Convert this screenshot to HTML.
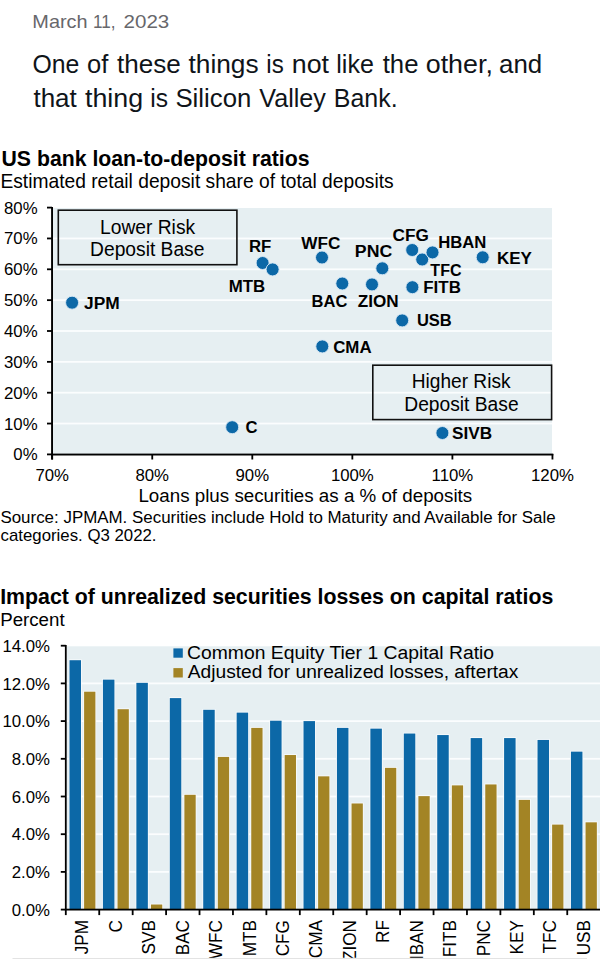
<!DOCTYPE html>
<html><head><meta charset="utf-8"><title>US bank loan-to-deposit ratios</title>
<style>
html,body{margin:0;padding:0;background:#fff;width:600px;height:974px;overflow:hidden}
svg{display:block;font-family:"Liberation Sans",Arial,sans-serif}
</style></head><body>
<svg width="600" height="974" viewBox="0 0 600 974">
<defs><clipPath id="cl"><rect x="0" y="912" width="600" height="45.8"/></clipPath></defs>
<g fill="#67676b" font-size="18.6">
<text x="32.34" y="27.9" textLength="55.22" lengthAdjust="spacingAndGlyphs">March</text>
<text x="93.03" y="27.9" textLength="22.48" lengthAdjust="spacingAndGlyphs">11,</text>
<text x="123.59" y="27.9" textLength="45.73" lengthAdjust="spacingAndGlyphs">2023</text>
</g>
<g fill="#0f1419" font-size="25.1">
<text x="32.44" y="73.3" textLength="46.9" lengthAdjust="spacingAndGlyphs">One</text>
<text x="87.07" y="73.3" textLength="21.31" lengthAdjust="spacingAndGlyphs">of</text>
<text x="117.01" y="73.3" textLength="63.8" lengthAdjust="spacingAndGlyphs">these</text>
<text x="188.51" y="73.3" textLength="70.08" lengthAdjust="spacingAndGlyphs">things</text>
<text x="266.37" y="73.3" textLength="17.42" lengthAdjust="spacingAndGlyphs">is</text>
<text x="291.73" y="73.3" textLength="37.29" lengthAdjust="spacingAndGlyphs">not</text>
<text x="336.31" y="73.3" textLength="37.58" lengthAdjust="spacingAndGlyphs">like</text>
<text x="382.71" y="73.3" textLength="35.77" lengthAdjust="spacingAndGlyphs">the</text>
<text x="425.76" y="73.3" textLength="67.14" lengthAdjust="spacingAndGlyphs">other,</text>
<text x="499.07" y="73.3" textLength="43.14" lengthAdjust="spacingAndGlyphs">and</text>
</g>
<g fill="#0f1419" font-size="25.1">
<text x="33.41" y="106.9" textLength="43.37" lengthAdjust="spacingAndGlyphs">that</text>
<text x="85.01" y="106.9" textLength="58.12" lengthAdjust="spacingAndGlyphs">thing</text>
<text x="150.34" y="106.9" textLength="17.75" lengthAdjust="spacingAndGlyphs">is</text>
<text x="175.42" y="106.9" textLength="75.88" lengthAdjust="spacingAndGlyphs">Silicon</text>
<text x="259.28" y="106.9" textLength="66.63" lengthAdjust="spacingAndGlyphs">Valley</text>
<text x="333.84" y="106.9" textLength="63.8" lengthAdjust="spacingAndGlyphs">Bank.</text>
</g>
<text x="1.53" y="165.6" font-size="21.69" font-weight="700" textLength="308.04" lengthAdjust="spacingAndGlyphs">US bank loan-to-deposit ratios</text>
<text x="0.39" y="187.5" font-size="19.61" textLength="393.3" lengthAdjust="spacingAndGlyphs">Estimated retail deposit share of total deposits</text>
<rect x="53" y="208" width="499" height="246" fill="#e6eff2"/>
<rect x="53" y="422.65" width="499" height="1.8" fill="#fbfdfe"/>
<rect x="53" y="391.80" width="499" height="1.8" fill="#fbfdfe"/>
<rect x="53" y="360.95" width="499" height="1.8" fill="#fbfdfe"/>
<rect x="53" y="330.10" width="499" height="1.8" fill="#fbfdfe"/>
<rect x="53" y="299.25" width="499" height="1.8" fill="#fbfdfe"/>
<rect x="53" y="268.40" width="499" height="1.8" fill="#fbfdfe"/>
<rect x="53" y="237.55" width="499" height="1.8" fill="#fbfdfe"/>
<rect x="58.3" y="210.2" width="178.6" height="54.5" fill="none" stroke="#111" stroke-width="1.6"/>
<rect x="372.8" y="365.2" width="178.8" height="54.4" fill="none" stroke="#111" stroke-width="1.6"/>
<text x="100.09" y="234" font-size="19.57" textLength="95.02" lengthAdjust="spacingAndGlyphs">Lower Risk</text>
<text x="90.09" y="256" font-size="19.71" textLength="114.34" lengthAdjust="spacingAndGlyphs">Deposit Base</text>
<text x="411.69" y="388.3" font-size="19.54" textLength="98.88" lengthAdjust="spacingAndGlyphs">Higher Risk</text>
<text x="404.29" y="410.8" font-size="19.71" textLength="114.34" lengthAdjust="spacingAndGlyphs">Deposit Base</text>
<rect x="51.1" y="207" width="1.9" height="252.5" fill="#000"/>
<rect x="51.1" y="453.6" width="502.2" height="1.9" fill="#000"/>
<rect x="47" y="453.50" width="5" height="1.8" fill="#000"/>
<text x="37.6" y="460.40" font-size="16.8" text-anchor="end">0%</text>
<rect x="47" y="422.65" width="5" height="1.8" fill="#000"/>
<text x="37.6" y="429.55" font-size="16.8" text-anchor="end">10%</text>
<rect x="47" y="391.80" width="5" height="1.8" fill="#000"/>
<text x="37.6" y="398.70" font-size="16.8" text-anchor="end">20%</text>
<rect x="47" y="360.95" width="5" height="1.8" fill="#000"/>
<text x="37.6" y="367.85" font-size="16.8" text-anchor="end">30%</text>
<rect x="47" y="330.10" width="5" height="1.8" fill="#000"/>
<text x="37.6" y="337.00" font-size="16.8" text-anchor="end">40%</text>
<rect x="47" y="299.25" width="5" height="1.8" fill="#000"/>
<text x="37.6" y="306.15" font-size="16.8" text-anchor="end">50%</text>
<rect x="47" y="268.40" width="5" height="1.8" fill="#000"/>
<text x="37.6" y="275.30" font-size="16.8" text-anchor="end">60%</text>
<rect x="47" y="237.55" width="5" height="1.8" fill="#000"/>
<text x="37.6" y="244.45" font-size="16.8" text-anchor="end">70%</text>
<rect x="47" y="206.70" width="5" height="1.8" fill="#000"/>
<text x="37.6" y="213.60" font-size="16.8" text-anchor="end">80%</text>
<rect x="51.30" y="454" width="1.8" height="5.5" fill="#000"/>
<text x="52.20" y="480.8" font-size="16.8" text-anchor="middle">70%</text>
<rect x="151.35" y="454" width="1.8" height="5.5" fill="#000"/>
<text x="152.25" y="480.8" font-size="16.8" text-anchor="middle">80%</text>
<rect x="251.40" y="454" width="1.8" height="5.5" fill="#000"/>
<text x="252.30" y="480.8" font-size="16.8" text-anchor="middle">90%</text>
<rect x="351.45" y="454" width="1.8" height="5.5" fill="#000"/>
<text x="352.35" y="480.8" font-size="16.8" text-anchor="middle">100%</text>
<rect x="451.50" y="454" width="1.8" height="5.5" fill="#000"/>
<text x="452.40" y="480.8" font-size="16.8" text-anchor="middle">110%</text>
<rect x="551.55" y="454" width="1.8" height="5.5" fill="#000"/>
<text x="552.45" y="480.8" font-size="16.8" text-anchor="middle">120%</text>
<text x="138.42" y="502" font-size="19.17" textLength="333.78" lengthAdjust="spacingAndGlyphs">Loans plus securities as a % of deposits</text>
<text x="0.45" y="522.5" font-size="17.26" textLength="555.23" lengthAdjust="spacingAndGlyphs">Source: JPMAM. Securities include Hold to Maturity and Available for Sale</text>
<text x="0.57" y="541.2" font-size="17.15" textLength="155.93" lengthAdjust="spacingAndGlyphs">categories. Q3 2022.</text>
<circle cx="72.1" cy="302.7" r="6.5" fill="#0c68a7" stroke="#d9e9f5" stroke-width="0.9"/>
<circle cx="232.2" cy="427.2" r="6.5" fill="#0c68a7" stroke="#d9e9f5" stroke-width="0.9"/>
<circle cx="262.6" cy="263" r="6.5" fill="#0c68a7" stroke="#d9e9f5" stroke-width="0.9"/>
<circle cx="272.6" cy="269.4" r="6.5" fill="#0c68a7" stroke="#d9e9f5" stroke-width="0.9"/>
<circle cx="322" cy="257.5" r="6.5" fill="#0c68a7" stroke="#d9e9f5" stroke-width="0.9"/>
<circle cx="342.3" cy="283.5" r="6.5" fill="#0c68a7" stroke="#d9e9f5" stroke-width="0.9"/>
<circle cx="372" cy="284.4" r="6.5" fill="#0c68a7" stroke="#d9e9f5" stroke-width="0.9"/>
<circle cx="382.3" cy="268.3" r="6.5" fill="#0c68a7" stroke="#d9e9f5" stroke-width="0.9"/>
<circle cx="412.2" cy="250" r="6.5" fill="#0c68a7" stroke="#d9e9f5" stroke-width="0.9"/>
<circle cx="422.2" cy="259.5" r="6.5" fill="#0c68a7" stroke="#d9e9f5" stroke-width="0.9"/>
<circle cx="432.5" cy="252.4" r="6.5" fill="#0c68a7" stroke="#d9e9f5" stroke-width="0.9"/>
<circle cx="482.7" cy="257.3" r="6.5" fill="#0c68a7" stroke="#d9e9f5" stroke-width="0.9"/>
<circle cx="412.4" cy="287.2" r="6.5" fill="#0c68a7" stroke="#d9e9f5" stroke-width="0.9"/>
<circle cx="402.2" cy="320.4" r="6.5" fill="#0c68a7" stroke="#d9e9f5" stroke-width="0.9"/>
<circle cx="322.3" cy="346.4" r="6.5" fill="#0c68a7" stroke="#d9e9f5" stroke-width="0.9"/>
<circle cx="442.4" cy="433" r="6.5" fill="#0c68a7" stroke="#d9e9f5" stroke-width="0.9"/>
<text x="84.07" y="309.3" font-size="17.2" font-weight="700" textLength="35.7" lengthAdjust="spacingAndGlyphs">JPM</text>
<text x="245.49" y="432.5" font-size="17.2" font-weight="700" textLength="12.03" lengthAdjust="spacingAndGlyphs">C</text>
<text x="248.97" y="252.1" font-size="17.2" font-weight="700" textLength="22.4" lengthAdjust="spacingAndGlyphs">RF</text>
<text x="228.77" y="292.1" font-size="17.2" font-weight="700" textLength="36.46" lengthAdjust="spacingAndGlyphs">MTB</text>
<text x="301.36" y="248.9" font-size="17.2" font-weight="700" textLength="39.06" lengthAdjust="spacingAndGlyphs">WFC</text>
<text x="311.57" y="307.3" font-size="17.2" font-weight="700" textLength="35.74" lengthAdjust="spacingAndGlyphs">BAC</text>
<text x="357.77" y="307.3" font-size="17.2" font-weight="700" textLength="40.91" lengthAdjust="spacingAndGlyphs">ZION</text>
<text x="354.84" y="257.1" font-size="17.2" font-weight="700" textLength="37.4" lengthAdjust="spacingAndGlyphs">PNC</text>
<text x="392.57" y="240.7" font-size="17.2" font-weight="700" textLength="36.29" lengthAdjust="spacingAndGlyphs">CFG</text>
<text x="430.36" y="276.3" font-size="17.2" font-weight="700" textLength="31.19" lengthAdjust="spacingAndGlyphs">TFC</text>
<text x="438.17" y="247.7" font-size="17.2" font-weight="700" textLength="48.14" lengthAdjust="spacingAndGlyphs">HBAN</text>
<text x="496.96" y="263.6" font-size="17.2" font-weight="700" textLength="34.92" lengthAdjust="spacingAndGlyphs">KEY</text>
<text x="423.27" y="292.9" font-size="17.2" font-weight="700" textLength="37.59" lengthAdjust="spacingAndGlyphs">FITB</text>
<text x="416.91" y="326.4" font-size="17.2" font-weight="700" textLength="34.87" lengthAdjust="spacingAndGlyphs">USB</text>
<text x="333.18" y="352.5" font-size="17.2" font-weight="700" textLength="38.41" lengthAdjust="spacingAndGlyphs">CMA</text>
<text x="452.06" y="438.7" font-size="17.2" font-weight="700" textLength="40.05" lengthAdjust="spacingAndGlyphs">SIVB</text>
<text x="0.21" y="604.4" font-size="21.78" font-weight="700" textLength="553.06" lengthAdjust="spacingAndGlyphs">Impact of unrealized securities losses on capital ratios</text>
<text x="0.17" y="626.4" font-size="19.16" textLength="64.46" lengthAdjust="spacingAndGlyphs">Percent</text>
<rect x="67" y="646.3" width="533" height="263.30" fill="#e6eff2"/>
<rect x="67" y="871.00" width="533" height="1.8" fill="#fbfdfe"/>
<rect x="67" y="833.30" width="533" height="1.8" fill="#fbfdfe"/>
<rect x="67" y="795.60" width="533" height="1.8" fill="#fbfdfe"/>
<rect x="67" y="757.90" width="533" height="1.8" fill="#fbfdfe"/>
<rect x="67" y="720.20" width="533" height="1.8" fill="#fbfdfe"/>
<rect x="67" y="682.50" width="533" height="1.8" fill="#fbfdfe"/>
<rect x="173.4" y="648.4" width="9.4" height="9.3" fill="#0c68a7"/>
<rect x="173.4" y="668.1" width="9.4" height="9.4" fill="#a38425"/>
<text x="187.09" y="658.7" font-size="18.8" textLength="307.0" lengthAdjust="spacingAndGlyphs">Common Equity Tier 1 Capital Ratio</text>
<text x="187.74" y="677.5" font-size="18.8" textLength="330.64" lengthAdjust="spacingAndGlyphs">Adjusted for unrealized losses, aftertax</text>
<rect x="68.70" y="659.41" width="13.10" height="250.19" fill="#f8fbfd"/>
<rect x="69.50" y="660.21" width="11.5" height="249.39" fill="#0c68a7"/>
<rect x="83.30" y="690.89" width="12.90" height="218.71" fill="#f8fbfd"/>
<rect x="84.10" y="691.69" width="11.3" height="217.91" fill="#a38425"/>
<rect x="102.13" y="678.83" width="13.10" height="230.77" fill="#f8fbfd"/>
<rect x="102.93" y="679.63" width="11.5" height="229.97" fill="#0c68a7"/>
<rect x="116.73" y="708.42" width="12.90" height="201.18" fill="#f8fbfd"/>
<rect x="117.53" y="709.22" width="11.3" height="200.38" fill="#a38425"/>
<rect x="135.56" y="682.03" width="13.10" height="227.57" fill="#f8fbfd"/>
<rect x="136.36" y="682.83" width="11.5" height="226.77" fill="#0c68a7"/>
<rect x="150.16" y="903.71" width="12.90" height="5.89" fill="#f8fbfd"/>
<rect x="150.96" y="904.51" width="11.3" height="5.09" fill="#a38425"/>
<rect x="168.99" y="697.30" width="13.10" height="212.30" fill="#f8fbfd"/>
<rect x="169.79" y="698.10" width="11.5" height="211.50" fill="#0c68a7"/>
<rect x="183.59" y="794.00" width="12.90" height="115.60" fill="#f8fbfd"/>
<rect x="184.39" y="794.80" width="11.3" height="114.80" fill="#a38425"/>
<rect x="202.42" y="708.99" width="13.10" height="200.61" fill="#f8fbfd"/>
<rect x="203.22" y="709.79" width="11.5" height="199.81" fill="#0c68a7"/>
<rect x="217.02" y="756.12" width="12.90" height="153.49" fill="#f8fbfd"/>
<rect x="217.82" y="756.91" width="11.3" height="152.69" fill="#a38425"/>
<rect x="235.85" y="711.82" width="13.10" height="197.78" fill="#f8fbfd"/>
<rect x="236.65" y="712.62" width="11.5" height="196.98" fill="#0c68a7"/>
<rect x="250.45" y="727.09" width="12.90" height="182.51" fill="#f8fbfd"/>
<rect x="251.25" y="727.89" width="11.3" height="181.71" fill="#a38425"/>
<rect x="269.28" y="719.92" width="13.10" height="189.68" fill="#f8fbfd"/>
<rect x="270.08" y="720.72" width="11.5" height="188.88" fill="#0c68a7"/>
<rect x="283.88" y="754.23" width="12.90" height="155.37" fill="#f8fbfd"/>
<rect x="284.68" y="755.03" width="11.3" height="154.57" fill="#a38425"/>
<rect x="302.71" y="720.30" width="13.10" height="189.30" fill="#f8fbfd"/>
<rect x="303.51" y="721.10" width="11.5" height="188.50" fill="#0c68a7"/>
<rect x="317.31" y="775.53" width="12.90" height="134.07" fill="#f8fbfd"/>
<rect x="318.11" y="776.33" width="11.3" height="133.27" fill="#a38425"/>
<rect x="336.14" y="727.09" width="13.10" height="182.51" fill="#f8fbfd"/>
<rect x="336.94" y="727.89" width="11.5" height="181.71" fill="#0c68a7"/>
<rect x="350.74" y="802.67" width="12.90" height="106.93" fill="#f8fbfd"/>
<rect x="351.54" y="803.47" width="11.3" height="106.13" fill="#a38425"/>
<rect x="369.57" y="727.84" width="13.10" height="181.76" fill="#f8fbfd"/>
<rect x="370.37" y="728.64" width="11.5" height="180.96" fill="#0c68a7"/>
<rect x="384.17" y="767.05" width="12.90" height="142.55" fill="#f8fbfd"/>
<rect x="384.97" y="767.85" width="11.3" height="141.75" fill="#a38425"/>
<rect x="403.00" y="732.74" width="13.10" height="176.86" fill="#f8fbfd"/>
<rect x="403.80" y="733.54" width="11.5" height="176.06" fill="#0c68a7"/>
<rect x="417.60" y="795.32" width="12.90" height="114.28" fill="#f8fbfd"/>
<rect x="418.40" y="796.12" width="11.3" height="113.48" fill="#a38425"/>
<rect x="436.43" y="734.25" width="13.10" height="175.35" fill="#f8fbfd"/>
<rect x="437.23" y="735.05" width="11.5" height="174.55" fill="#0c68a7"/>
<rect x="451.03" y="784.58" width="12.90" height="125.02" fill="#f8fbfd"/>
<rect x="451.83" y="785.38" width="11.3" height="124.22" fill="#a38425"/>
<rect x="469.86" y="737.27" width="13.10" height="172.34" fill="#f8fbfd"/>
<rect x="470.66" y="738.07" width="11.5" height="171.53" fill="#0c68a7"/>
<rect x="484.46" y="783.64" width="12.90" height="125.96" fill="#f8fbfd"/>
<rect x="485.26" y="784.44" width="11.3" height="125.16" fill="#a38425"/>
<rect x="503.29" y="737.27" width="13.10" height="172.34" fill="#f8fbfd"/>
<rect x="504.09" y="738.07" width="11.5" height="171.53" fill="#0c68a7"/>
<rect x="517.89" y="799.09" width="12.90" height="110.51" fill="#f8fbfd"/>
<rect x="518.69" y="799.89" width="11.3" height="109.71" fill="#a38425"/>
<rect x="536.72" y="739.15" width="13.10" height="170.45" fill="#f8fbfd"/>
<rect x="537.52" y="739.95" width="11.5" height="169.65" fill="#0c68a7"/>
<rect x="551.32" y="823.79" width="12.90" height="85.81" fill="#f8fbfd"/>
<rect x="552.12" y="824.59" width="11.3" height="85.01" fill="#a38425"/>
<rect x="570.15" y="750.84" width="13.10" height="158.76" fill="#f8fbfd"/>
<rect x="570.95" y="751.64" width="11.5" height="157.96" fill="#0c68a7"/>
<rect x="584.75" y="821.52" width="12.90" height="88.08" fill="#f8fbfd"/>
<rect x="585.55" y="822.32" width="11.3" height="87.28" fill="#a38425"/>
<rect x="64.9" y="645" width="1.8" height="270.10" fill="#000"/>
<rect x="64.9" y="908.70" width="535.1" height="1.8" fill="#000"/>
<rect x="60.8" y="908.70" width="5" height="1.8" fill="#000"/>
<text x="50" y="915.70" font-size="16.8" text-anchor="end">0.0%</text>
<rect x="60.8" y="871.00" width="5" height="1.8" fill="#000"/>
<text x="50" y="878.00" font-size="16.8" text-anchor="end">2.0%</text>
<rect x="60.8" y="833.30" width="5" height="1.8" fill="#000"/>
<text x="50" y="840.30" font-size="16.8" text-anchor="end">4.0%</text>
<rect x="60.8" y="795.60" width="5" height="1.8" fill="#000"/>
<text x="50" y="802.60" font-size="16.8" text-anchor="end">6.0%</text>
<rect x="60.8" y="757.90" width="5" height="1.8" fill="#000"/>
<text x="50" y="764.90" font-size="16.8" text-anchor="end">8.0%</text>
<rect x="60.8" y="720.20" width="5" height="1.8" fill="#000"/>
<text x="50" y="727.20" font-size="16.8" text-anchor="end">10.0%</text>
<rect x="60.8" y="682.50" width="5" height="1.8" fill="#000"/>
<text x="50" y="689.50" font-size="16.8" text-anchor="end">12.0%</text>
<rect x="60.8" y="644.80" width="5" height="1.8" fill="#000"/>
<text x="50" y="651.80" font-size="16.8" text-anchor="end">14.0%</text>
<rect x="98.33" y="909.6" width="1.8" height="5.5" fill="#000"/>
<rect x="131.76" y="909.6" width="1.8" height="5.5" fill="#000"/>
<rect x="165.19" y="909.6" width="1.8" height="5.5" fill="#000"/>
<rect x="198.62" y="909.6" width="1.8" height="5.5" fill="#000"/>
<rect x="232.05" y="909.6" width="1.8" height="5.5" fill="#000"/>
<rect x="265.48" y="909.6" width="1.8" height="5.5" fill="#000"/>
<rect x="298.91" y="909.6" width="1.8" height="5.5" fill="#000"/>
<rect x="332.34" y="909.6" width="1.8" height="5.5" fill="#000"/>
<rect x="365.77" y="909.6" width="1.8" height="5.5" fill="#000"/>
<rect x="399.20" y="909.6" width="1.8" height="5.5" fill="#000"/>
<rect x="432.63" y="909.6" width="1.8" height="5.5" fill="#000"/>
<rect x="466.06" y="909.6" width="1.8" height="5.5" fill="#000"/>
<rect x="499.49" y="909.6" width="1.8" height="5.5" fill="#000"/>
<rect x="532.92" y="909.6" width="1.8" height="5.5" fill="#000"/>
<rect x="566.35" y="909.6" width="1.8" height="5.5" fill="#000"/>
<g clip-path="url(#cl)">
<text x="0" y="0" font-size="17.2" text-anchor="end" transform="translate(88.42,920) rotate(-90) scale(1,1.07)">JPM</text>
<text x="0" y="0" font-size="17.2" text-anchor="end" transform="translate(121.84,920) rotate(-90) scale(1,1.07)">C</text>
<text x="0" y="0" font-size="17.2" text-anchor="end" transform="translate(155.28,920) rotate(-90) scale(1,1.07)">SVB</text>
<text x="0" y="0" font-size="17.2" text-anchor="end" transform="translate(188.70,920) rotate(-90) scale(1,1.07)">BAC</text>
<text x="0" y="0" font-size="17.2" text-anchor="end" transform="translate(222.13,920) rotate(-90) scale(1,1.07)">WFC</text>
<text x="0" y="0" font-size="17.2" text-anchor="end" transform="translate(255.56,920) rotate(-90) scale(1,1.07)">MTB</text>
<text x="0" y="0" font-size="17.2" text-anchor="end" transform="translate(288.99,920) rotate(-90) scale(1,1.07)">CFG</text>
<text x="0" y="0" font-size="17.2" text-anchor="end" transform="translate(322.42,920) rotate(-90) scale(1,1.07)">CMA</text>
<text x="0" y="0" font-size="17.2" text-anchor="end" transform="translate(355.85,920) rotate(-90) scale(1,1.07)">ZION</text>
<text x="0" y="0" font-size="17.2" text-anchor="end" transform="translate(389.28,920) rotate(-90) scale(1,1.07)">RF</text>
<text x="0" y="0" font-size="17.2" text-anchor="end" transform="translate(422.71,920) rotate(-90) scale(1,1.07)">HBAN</text>
<text x="0" y="0" font-size="17.2" text-anchor="end" transform="translate(456.14,920) rotate(-90) scale(1,1.07)">FITB</text>
<text x="0" y="0" font-size="17.2" text-anchor="end" transform="translate(489.57,920) rotate(-90) scale(1,1.07)">PNC</text>
<text x="0" y="0" font-size="17.2" text-anchor="end" transform="translate(523.00,920) rotate(-90) scale(1,1.07)">KEY</text>
<text x="0" y="0" font-size="17.2" text-anchor="end" transform="translate(556.43,920) rotate(-90) scale(1,1.07)">TFC</text>
<text x="0" y="0" font-size="17.2" text-anchor="end" transform="translate(589.87,920) rotate(-90) scale(1,1.07)">USB</text>
</g>
<rect x="12.5" y="958" width="574.5" height="1" fill="#e3e3e3"/>
</svg>
</body></html>
